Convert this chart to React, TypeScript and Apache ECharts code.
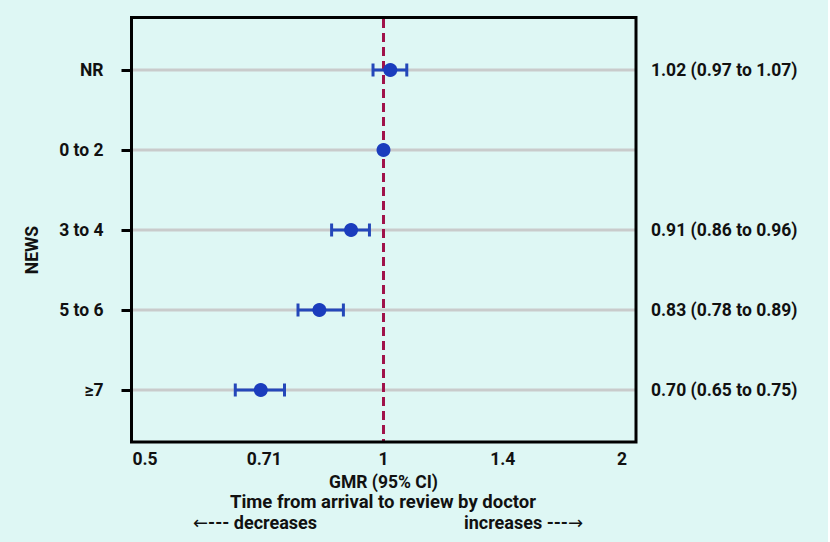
import React, { useEffect, useRef } from "react";
import * as echarts from "echarts";

const categories = ["NR", "0 to 2", "3 to 4", "5 to 6", "≥7"];
const gmr = [1.02, 1, 0.91, 0.83, 0.7];
const ciLow: (number | null)[] = [0.97, null, 0.86, 0.78, 0.65];
const ciHigh: (number | null)[] = [1.07, null, 0.96, 0.89, 0.75];
const ciLabels = ["1.02 (0.97 to 1.07)", "", "0.91 (0.86 to 0.96)", "0.83 (0.78 to 0.89)", "0.70 (0.65 to 0.75)"];
const xTickValues = [0.5, 0.71, 1, 1.4, 2];
const xTickLabels = ["0.5", "0.71", "1", "1.4", "2"];
const referenceValue = 1;

const FONT = "Roboto";
const FS = 17.5;
const BLUE = "#1b3dbd";
const BAR_BLUE = "#2447b9";
const RED = "#a0124a";
const GREY = "#c9cbcb";
const BG = "#def7f4";
const INK = "#111";

export default function App() {
  const ref = useRef<HTMLDivElement>(null);

  useEffect(() => {
    if (!ref.current) return;
    const chart = echarts.init(ref.current, null, { renderer: "svg" });

    const pointData = gmr.map((v, i) => [Math.log2(v), i]);
    const ciData: number[][] = [];
    ciLow.forEach((lo, i) => {
      const hi = ciHigh[i];
      if (lo != null && hi != null) ciData.push([Math.log2(lo), i, Math.log2(hi)]);
    });

    const option: any = {
      animation: false,
      backgroundColor: BG,
      textStyle: { fontFamily: FONT },
      grid: { left: 145, width: 477, top: 30, height: 400, containLabel: false },
      xAxis: {
        type: "value",
        min: -1,
        max: 1,
        interval: 0.5,
        axisLine: { show: false, onZero: false },
        axisTick: { show: false },
        splitLine: { show: false },
        axisLabel: {
          margin: 20,
          fontSize: FS,
          fontWeight: "bold",
          color: INK,
          fontFamily: FONT,
          formatter: (val: number) => {
            for (let i = 0; i < xTickValues.length; i++) {
              if (Math.abs(Math.log2(xTickValues[i]) - val) < 0.03) return xTickLabels[i];
            }
            return "";
          },
        },
        name: "GMR (95% CI)",
        nameLocation: "middle",
        nameGap: 42,
        nameTextStyle: { fontSize: 17.5, fontWeight: "bold", color: INK, fontFamily: FONT },
      },
      yAxis: [
        {
          type: "category",
          data: categories,
          inverse: true,
          position: "left",
          offset: 13.5,
          axisLine: { show: false, onZero: false },
          axisTick: { show: true, alignWithLabel: true, length: 10, lineStyle: { color: "#000", width: 3 } },
          splitLine: { show: false },
          axisLabel: { margin: 28, fontSize: FS, fontWeight: "bold", color: INK, fontFamily: FONT },
        },
        {
          type: "category",
          data: categories,
          inverse: true,
          position: "right",
          axisLine: { show: false, onZero: false },
          axisTick: { show: false },
          splitLine: { show: false },
          axisLabel: {
            margin: 29,
            fontSize: FS,
            fontWeight: "bold",
            color: INK,
            fontFamily: FONT,
            align: "left",
            formatter: (_: string, i: number) => ciLabels[i],
          },
        },
      ],
      series: [
        {
          type: "custom",
          name: "rows",
          z: 1,
          silent: true,
          encode: { x: 0, y: 1 },
          data: categories.map((_, i) => [0, i]),
          renderItem: (params: any, api: any) => {
            const cs = params.coordSys;
            const y = api.coord([0, api.value(1)])[1];
            return {
              type: "line",
              shape: { x1: cs.x - 12, y1: y, x2: cs.x + cs.width + 13, y2: y },
              style: { stroke: GREY, lineWidth: 3, fill: null },
            };
          },
        },
        {
          type: "custom",
          name: "reference",
          z: 2,
          silent: true,
          encode: { x: 0, y: 1 },
          data: [[Math.log2(referenceValue), 0]],
          renderItem: (params: any, api: any) => {
            const cs = params.coordSys;
            const x = api.coord([api.value(0), 0])[0];
            return {
              type: "line",
              shape: { x1: x, y1: cs.y - 11, x2: x, y2: cs.y + cs.height + 11 },
              style: { stroke: RED, lineWidth: 3, lineDash: [9, 5], fill: null },
            };
          },
        },
        {
          type: "custom",
          name: "ci",
          z: 3,
          silent: true,
          encode: { x: [0, 2], y: 1 },
          data: ciData,
          renderItem: (params: any, api: any) => {
            const row = api.value(1);
            const p1 = api.coord([api.value(0), row]);
            const p2 = api.coord([api.value(2), row]);
            const h = 6.5;
            const st = { stroke: BAR_BLUE, lineWidth: 3, fill: null };
            return {
              type: "group",
              children: [
                { type: "line", shape: { x1: p1[0], y1: p1[1], x2: p2[0], y2: p2[1] }, style: st },
                { type: "line", shape: { x1: p1[0], y1: p1[1] - h, x2: p1[0], y2: p1[1] + h }, style: st },
                { type: "line", shape: { x1: p2[0], y1: p2[1] - h, x2: p2[0], y2: p2[1] + h }, style: st },
              ],
            };
          },
        },
        {
          type: "scatter",
          name: "GMR",
          z: 4,
          symbol: "circle",
          symbolSize: 14,
          itemStyle: { color: BLUE, opacity: 1 },
          data: pointData,
        },
      ],
      graphic: [
        {
          type: "rect",
          z: 100,
          silent: true,
          shape: { x: 131.5, y: 17.5, width: 504.5, height: 424.5 },
          style: { fill: "none", stroke: "#000", lineWidth: 3 },
        },
        {
          type: "text",
          x: 32,
          y: 250,
          rotation: Math.PI / 2,
          style: {
            text: "NEWS",
            fontSize: FS,
            fontWeight: "bold",
            fill: INK,
            fontFamily: FONT,
            align: "center",
            verticalAlign: "middle",
          },
        },
        {
          type: "text",
          x: 383,
          y: 502,
          style: {
            text: "Time from arrival to review by doctor",
            fontSize: 18.5,
            fontWeight: "bold",
            fill: INK,
            fontFamily: FONT,
            align: "center",
            verticalAlign: "middle",
          },
        },
        {
          type: "text",
          x: 193,
          y: 522,
          style: {
            text: "{a|←}--- decreases",
            fontSize: 18,
            fontWeight: "bold",
            fill: INK,
            fontFamily: FONT,
            align: "left",
            verticalAlign: "middle",
            rich: { a: { fontFamily: "DejaVu Sans", fontSize: 18, fill: INK, fontWeight: "normal" } },
          },
        },
        {
          type: "text",
          x: 583,
          y: 522,
          style: {
            text: "increases ---{a|→}",
            fontSize: 18,
            fontWeight: "bold",
            fill: INK,
            fontFamily: FONT,
            align: "right",
            verticalAlign: "middle",
            rich: { a: { fontFamily: "DejaVu Sans", fontSize: 18, fill: INK, fontWeight: "normal" } },
          },
        },
      ],
    };

    chart.setOption(option);
    return () => chart.dispose();
  }, []);

  return (
    <div style={{ position: "fixed", left: 0, top: 0, width: 830, height: 542, background: "#fff" }}>
      <div ref={ref} style={{ width: 828, height: 542 }} />
    </div>
  );
}
